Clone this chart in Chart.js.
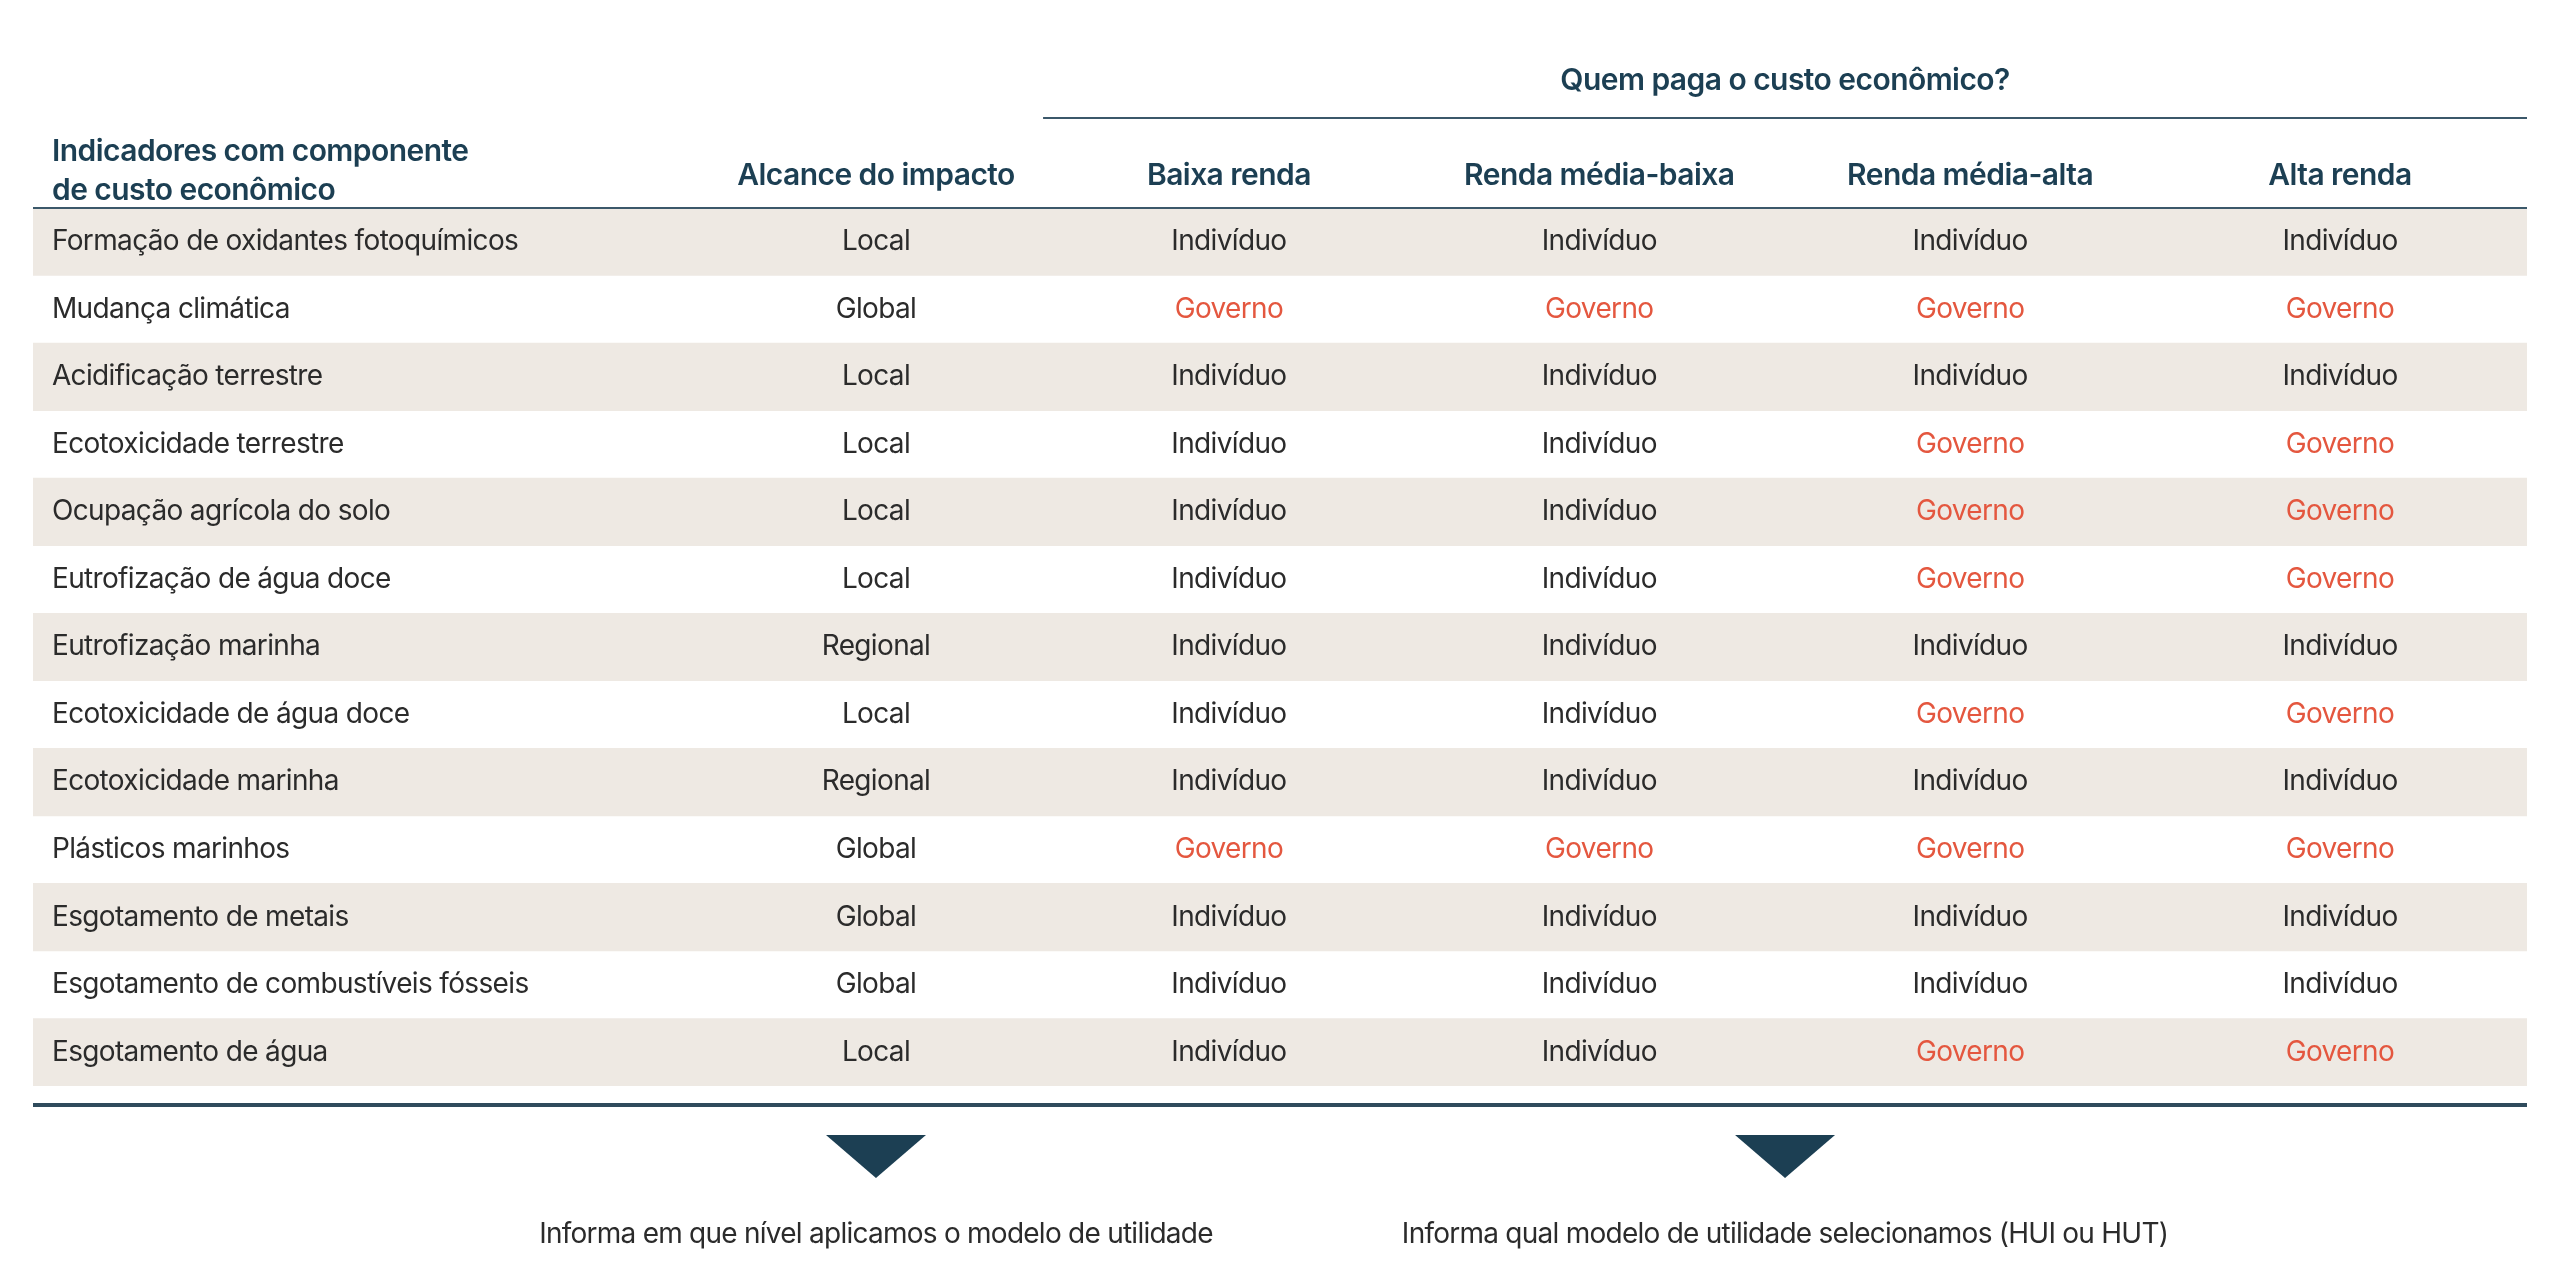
<!DOCTYPE html>
<html lang="pt">
<head>
<meta charset="utf-8">
<title>Quem paga o custo econômico?</title>
<script src="https://cdn.jsdelivr.net/npm/chart.js@4"></script>
<style>
  html, body { margin: 0; padding: 0; background: #ffffff; }
  #wrap { width: 2560px; height: 1280px; position: relative; }
</style>
</head>
<body>
<div id="wrap"><canvas id="table-canvas"></canvas></div>
<script>
// table content
const indicators = [
    'Formação de oxidantes fotoquímicos',
    'Mudança climática',
    'Acidificação terrestre',
    'Ecotoxicidade terrestre',
    'Ocupação agrícola do solo',
    'Eutrofização de água doce',
    'Eutrofização marinha',
    'Ecotoxicidade de água doce',
    'Ecotoxicidade marinha',
    'Plásticos marinhos',
    'Esgotamento de metais',
    'Esgotamento de combustíveis fósseis',
    'Esgotamento de água'
];
const alcance = ['Local', 'Global', 'Local', 'Local', 'Local', 'Local', 'Regional',
    'Local', 'Regional', 'Global', 'Global', 'Global', 'Local'];
const baixaRenda = ['Indivíduo', 'Governo', 'Indivíduo', 'Indivíduo', 'Indivíduo', 'Indivíduo', 'Indivíduo',
    'Indivíduo', 'Indivíduo', 'Governo', 'Indivíduo', 'Indivíduo', 'Indivíduo'];
const mediaBaixa = ['Indivíduo', 'Governo', 'Indivíduo', 'Indivíduo', 'Indivíduo', 'Indivíduo', 'Indivíduo',
    'Indivíduo', 'Indivíduo', 'Governo', 'Indivíduo', 'Indivíduo', 'Indivíduo'];
const mediaAlta = ['Indivíduo', 'Governo', 'Indivíduo', 'Governo', 'Governo', 'Governo', 'Indivíduo',
    'Governo', 'Indivíduo', 'Governo', 'Indivíduo', 'Indivíduo', 'Governo'];
const altaRenda = ['Indivíduo', 'Governo', 'Indivíduo', 'Governo', 'Governo', 'Governo', 'Indivíduo',
    'Governo', 'Indivíduo', 'Governo', 'Indivíduo', 'Indivíduo', 'Governo'];

const columnHeaders = ['Alcance do impacto', 'Baixa renda', 'Renda média-baixa', 'Renda média-alta', 'Alta renda'];
const firstHeader = ['Indicadores com componente', 'de custo econômico'];
const groupTitle = 'Quem paga o custo econômico?';
const notes = ['Informa em que nível aplicamos o modelo de utilidade',
    'Informa qual modelo de utilidade selecionamos (HUI ou HUT)'];

// column positions on the x scale (0-100 across the table)
const nameX = 0.76;
const colX = [33.8, 47.95, 62.8, 77.67, 92.5];
const groupX = 70.25;
const groupLineStart = 40.5;

const NAVY = '#1c3f53';
const TEXT = '#2b2b2b';
const RED = '#e4573f';
const STRIPE = '#eee9e3';
const FONT = 'Inter, "Noto Sans", sans-serif';

const columns = [alcance, baixaRenda, mediaBaixa, mediaAlta, altaRenda];

const tablePlugin = {
    id: 'tableText',
    afterDatasetsDraw(chart) {
        const ctx = chart.ctx;
        const x = chart.scales.x;
        const y = chart.scales.y;
        const area = chart.chartArea;
        ctx.save();

        // body cells
        ctx.textBaseline = 'middle';
        ctx.font = '400 28px ' + FONT;
        ctx.letterSpacing = '-0.65px';
        indicators.forEach((name, i) => {
            const py = y.getPixelForValue(i);
            ctx.fillStyle = TEXT;
            ctx.textAlign = 'left';
            ctx.fillText(name, x.getPixelForValue(nameX), py);
            ctx.textAlign = 'center';
            columns.forEach((col, c) => {
                ctx.fillStyle = col[i] === 'Governo' ? RED : TEXT;
                ctx.fillText(col[i], x.getPixelForValue(colX[c]), py);
            });
        });

        // headers
        ctx.fillStyle = NAVY;
        ctx.textBaseline = 'alphabetic';
        ctx.font = '600 30px ' + FONT;
        ctx.letterSpacing = '-0.55px';
        ctx.textAlign = 'left';
        ctx.fillText(firstHeader[0], x.getPixelForValue(nameX), area.top - 47);
        ctx.fillText(firstHeader[1], x.getPixelForValue(nameX), area.top - 8);
        ctx.textAlign = 'center';
        columnHeaders.forEach((h, c) => {
            ctx.fillText(h, x.getPixelForValue(colX[c]), area.top - 23);
        });
        ctx.fillText(groupTitle, x.getPixelForValue(groupX), area.top - 118);

        // rules
        ctx.strokeStyle = '#3b586a';
        ctx.lineWidth = 2;
        ctx.beginPath();
        ctx.moveTo(x.getPixelForValue(groupLineStart), area.top - 90);
        ctx.lineTo(area.right, area.top - 90);
        ctx.moveTo(area.left, area.top);
        ctx.lineTo(area.right, area.top);
        ctx.stroke();
        ctx.strokeStyle = '#2f4b5c';
        ctx.lineWidth = 4;
        ctx.beginPath();
        ctx.moveTo(area.left, area.bottom + 19);
        ctx.lineTo(area.right, area.bottom + 19);
        ctx.stroke();

        // arrows + notes under the first two columns
        [colX[0], groupX].forEach((cx, k) => {
            const px = x.getPixelForValue(cx);
            ctx.fillStyle = NAVY;
            ctx.beginPath();
            ctx.moveTo(px - 50, area.bottom + 49);
            ctx.lineTo(px + 50, area.bottom + 49);
            ctx.lineTo(px, area.bottom + 92);
            ctx.closePath();
            ctx.fill();
            ctx.fillStyle = TEXT;
            ctx.font = '400 28px ' + FONT;
            ctx.letterSpacing = '-0.75px';
            ctx.textAlign = 'center';
            ctx.fillText(notes[k], px, area.bottom + 157);
        });
        ctx.restore();
    }
};

const table_config = {
    type: 'bar',
    data: {
        labels: indicators,
        datasets: [
            {
                // alternating row shading
                data: indicators.map((_, i) => (i % 2 === 0 ? [0, 100] : null)),
                backgroundColor: STRIPE,
                borderWidth: 0,
                barPercentage: 1,
                categoryPercentage: 1,
            }
        ]
    },
    options: {
        indexAxis: 'y',
        responsive: true,
        maintainAspectRatio: false,
        devicePixelRatio: 1,
        animation: false,
        layout: {
            padding: { left: 33, right: 33, top: 208, bottom: 194 }
        },
        plugins: {
            legend: { display: false },
            tooltip: { enabled: false },
            title: { display: false },
        },
        scales: {
            x: { display: false, min: 0, max: 100 },
            y: { display: false }
        }
    },
    plugins: [tablePlugin]
};

const table_ctx = document.getElementById('table-canvas');
new Chart(table_ctx, table_config);
</script>
</body>
</html>
